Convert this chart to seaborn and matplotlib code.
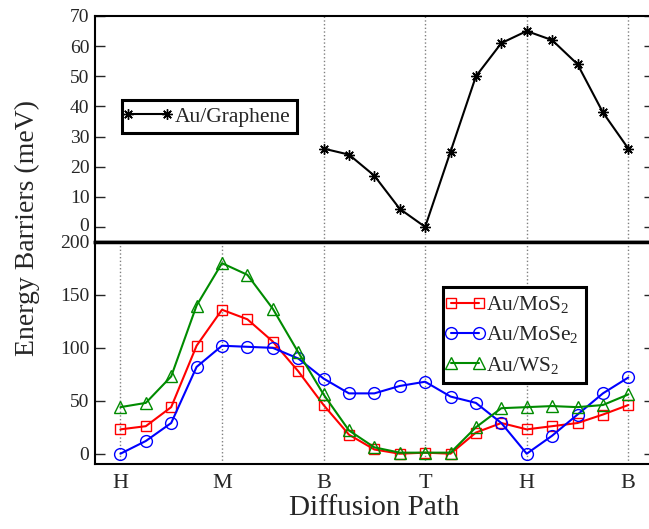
import matplotlib
matplotlib.use("Agg")
import matplotlib.pyplot as plt
import matplotlib.transforms as mtransforms
import seaborn as sns
from matplotlib.lines import Line2D
from matplotlib.legend_handler import HandlerLine2D

# Diffusion path H -> M -> B -> T -> H -> B, 4 steps per segment
path_steps = list(range(21))
tick_pos = [0, 4, 8, 12, 16, 20]
tick_labels = ["H", "M", "B", "T", "H", "B"]

# Au/Graphene (only from B on)
graphene_steps = list(range(8, 21))
graphene = [26, 24, 17, 6, 0, 25, 50, 61, 65, 62, 54, 38, 26]

# TMD substrates
mos2 = [23, 26, 44, 102, 136, 127, 106, 78, 46, 18, 4, 0, 1, 0, 20, 29, 23, 26, 29, 37, 46]
mose2 = [0, 12, 29, 82, 102, 101, 100, 90, 71, 57, 57, 64, 68, 54, 48, 29, 0, 17, 37, 57, 72]
ws2 = [44, 48, 73, 140, 180, 169, 137, 96, 56, 22, 6, 1, 1, 1, 25, 43, 44, 45, 44, 46, 56]

sns.set_style("ticks")
plt.rcParams["font.family"] = ["Liberation Serif", "DejaVu Serif"]
plt.rcParams["mathtext.default"] = "regular"
plt.rcParams["axes.linewidth"] = 1.5

W, H = 649, 529
fig = plt.figure(figsize=(W / 100, H / 100), dpi=100)
left, right = 95, 653.7
ax_top = fig.add_axes([left / W, 1 - 242 / H, (right - left) / W, (242 - 16) / H])
ax_bot = fig.add_axes([left / W, 1 - 464.3 / H, (right - left) / W, (464.3 - 242) / H])

# markers sitting at both ends of the legend line, like the original
hmap = {Line2D: HandlerLine2D(marker_pad=0.0)}

# --- top panel: graphene
sns.lineplot(x=graphene_steps, y=graphene, ax=ax_top, color="black", lw=1.5,
             marker=(8, 2, 0), markersize=7.5, markeredgewidth=1.0,
             markeredgecolor="black", label="Au/Graphene")
for xv in tick_pos[2:]:
    ax_top.axvline(xv, color="gray", ls=":", lw=1, zorder=0)
ax_top.set_xlim(-1, 21)
ax_top.set_ylim(-5, 70)
ax_top.set_yticks(range(0, 71, 10))
ax_top.set_xticks(tick_pos)
ax_top.set_xticklabels([])
ax_top.tick_params(axis="x", length=0)
ax_top.spines["bottom"].set_linewidth(2.5)

leg = ax_top.legend(loc="upper left", bbox_to_anchor=(0.048, 0.628), borderaxespad=0,
                    fontsize=15.5, numpoints=2, handlelength=1.8, handletextpad=0.35,
                    fancybox=False, framealpha=1, edgecolor="black",
                    borderpad=0.3, handler_map=hmap)
leg.get_frame().set_linewidth(2.2)

# --- bottom panel: TMDs
series = [
    (mos2, "#ff0000", "s", 7.5, r"Au/MoS$_2$"),
    (mose2, "#0000ff", "o", 8.5, r"Au/MoSe$_2$"),
    (ws2, "#008b00", "^", 8.5, r"Au/WS$_2$"),
]
for vals, col, mk, ms, lab in series:
    sns.lineplot(x=path_steps, y=vals, ax=ax_bot, color=col, lw=1.5, marker=mk,
                 markersize=ms, markerfacecolor="none", markeredgecolor=col,
                 markeredgewidth=1.0, label=lab)
ax_bot.set_xlim(-1, 21)
ax_bot.set_ylim(-10, 200)
ax_bot.set_yticks(range(0, 201, 50))
ax_bot.set_xticks(tick_pos)
ax_bot.set_xticklabels(tick_labels)
ax_bot.grid(axis="x", color="gray", ls=":", lw=1)
ax_bot.tick_params(axis="x", length=0, pad=7)
ax_bot.spines["top"].set_linewidth(2.5)

leg2 = ax_bot.legend(loc="upper left", bbox_to_anchor=(0.623, 0.798), borderaxespad=0,
                     fontsize=15.5, numpoints=2, handlelength=1.3, handletextpad=0.35,
                     labelspacing=0.42, fancybox=False, framealpha=1,
                     edgecolor="black", borderpad=0.35, handler_map=hmap)
leg2.get_frame().set_linewidth(2.2)

for ax in (ax_top, ax_bot):
    ax.set_xlabel("")
    ax.set_ylabel("")
    ax.tick_params(axis="y", direction="in", length=7, width=1, left=True,
                   right=True, labelsize=14, pad=4)
    ax.tick_params(axis="x", labelsize=16)
    for sp in ax.spines.values():
        sp.set_color("black")

# lift the top "0" a touch so it does not run into the "200" below
zero_lbl = ax_top.yaxis.get_major_ticks()[0].label1
zero_lbl.set_transform(zero_lbl.get_transform()
                       + mtransforms.ScaledTranslation(0, 2 / 72, fig.dpi_scale_trans))

fig.text(27 / W, 1 - 228 / H, "Energy Barriers (meV)", rotation=90,
         ha="center", va="center", fontsize=20)
fig.text(374 / W, 1 - 508 / H, "Diffusion Path", ha="center", va="center",
         fontsize=21)

fig.savefig("out.png", dpi=100)
